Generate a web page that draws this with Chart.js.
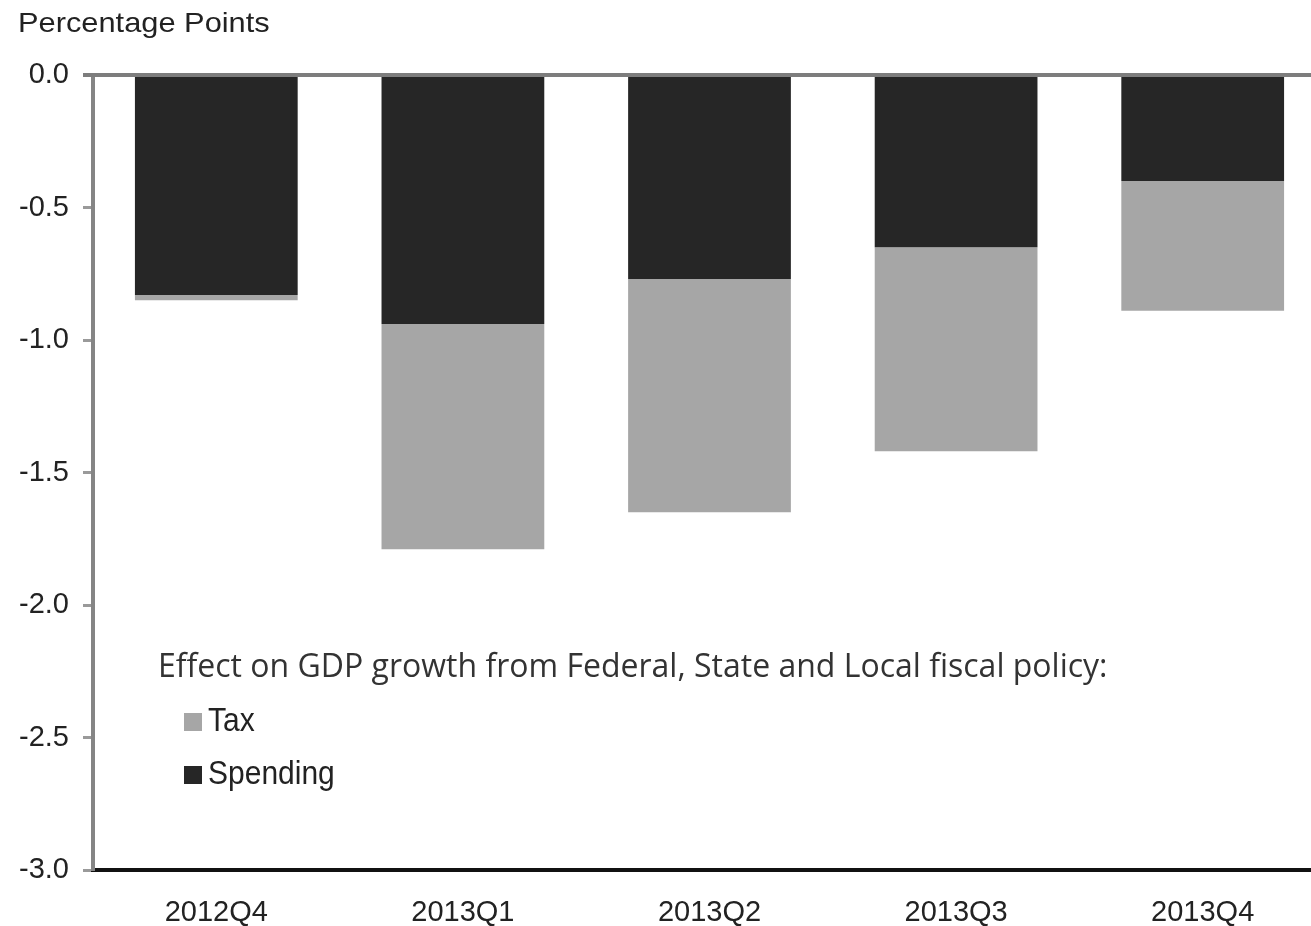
<!doctype html>
<html lang="en">
<head>
  <meta charset="utf-8">
  <title>Fiscal policy effect on GDP growth</title>
  <style type="text/css">
    html, body {
      margin: 0;
      padding: 0;
      background: #fff;
      overflow: hidden;
    }
    #wrap {
      position: relative;
      width: 1326px;
      height: 926px;
    }
  </style>
</head>
<body>
  <div id="wrap">
    <canvas id="chart_fiscal"></canvas>
  </div>

  <script src="https://cdn.jsdelivr.net/npm/chart.js"></script>
  <script>
    const quarters = ['2012Q4', '2013Q1', '2013Q2', '2013Q3', '2013Q4'];
    const spending = [-0.83, -0.94, -0.77, -0.65, -0.40];
    const tax = [-0.02, -0.85, -0.88, -0.77, -0.49];

    const yTicks = [0, -0.5, -1.0, -1.5, -2.0, -2.5, -3.0];

    const axisTitle = 'Percentage Points';
    const noteText = 'Effect on GDP growth from Federal, State and Local fiscal policy:';

    const colors = {
      spending: '#262626',
      tax: '#a6a6a6',
      text: '#222222',
      axis: '#858585'
    };

    const labelFont = { family: "'Liberation Sans', Arial, sans-serif", size: 29 };

    // title, zero line and the in-plot legend
    const decorations = {
      id: 'decorations',
      afterDatasetsDraw(chart) {
        const ctx = chart.ctx;
        const area = chart.chartArea;
        const y0 = chart.scales.y.getPixelForValue(0);

        ctx.save();
        ctx.strokeStyle = '#7d7d7d';
        ctx.lineWidth = 4;
        ctx.beginPath();
        ctx.moveTo(area.left - 10, y0);
        ctx.lineTo(area.right, y0);
        ctx.stroke();

        ctx.fillStyle = colors.text;
        ctx.textBaseline = 'alphabetic';
        ctx.textAlign = 'left';
        ctx.save();
        ctx.translate(18, 32);
        ctx.scale(1.1, 1);
        ctx.font = "28px 'Liberation Sans', Arial, sans-serif";
        ctx.fillText(axisTitle, 0, 0);
        ctx.restore();

        ctx.font = "32px 'Open Sans', sans-serif";
        ctx.fillStyle = '#333333';
        ctx.fillText(noteText, 158, 677);

        // legend: Tax first, then Spending
        const items = [
          { label: chart.data.datasets[1].label, color: chart.data.datasets[1].backgroundColor, y: 722 },
          { label: chart.data.datasets[0].label, color: chart.data.datasets[0].backgroundColor, y: 775 }
        ];
        ctx.textBaseline = 'middle';
        items.forEach(function (it) {
          ctx.fillStyle = it.color;
          ctx.fillRect(184, it.y - 9, 18, 18);
          ctx.fillStyle = colors.text;
          ctx.save();
          ctx.translate(208, it.y);
          ctx.scale(1, 1.12);
          ctx.font = "30px 'Liberation Sans', Arial, sans-serif";
          ctx.fillText(it.label, 0, 0);
          ctx.restore();
        });
        ctx.restore();
      }
    };

    const config_fiscal = {
      type: 'bar',
      data: {
        labels: quarters,
        datasets: [{
          label: 'Spending',
          data: spending,
          backgroundColor: colors.spending,
          borderWidth: 0,
          categoryPercentage: 1.0,
          barPercentage: 0.66
        }, {
          label: 'Tax',
          data: tax,
          backgroundColor: colors.tax,
          borderWidth: 0,
          categoryPercentage: 1.0,
          barPercentage: 0.66
        }]
      },
      options: {
        responsive: true,
        maintainAspectRatio: false,
        animation: false,
        layout: {
          padding: { top: 75, left: 0, right: 0, bottom: 0 }
        },
        scales: {
          x: {
            stacked: true,
            grid: { display: false, drawTicks: false },
            border: { color: '#111111', width: 4 },
            ticks: {
              color: colors.text,
              font: labelFont,
              padding: 26,
              maxRotation: 0
            },
            afterFit(scale) {
              scale.height = 56;
            }
          },
          y: {
            stacked: true,
            min: -3,
            max: 0,
            afterBuildTicks(scale) {
              scale.ticks = yTicks.map(function (v) { return { value: v }; });
            },
            grid: {
              drawOnChartArea: false,
              drawTicks: true,
              tickLength: 10,
              tickColor: '#9a9a9a',
              tickWidth: 3
            },
            border: { color: colors.axis, width: 4 },
            ticks: {
              color: colors.text,
              font: labelFont,
              padding: 14,
              callback: function (v) { return Number(v).toFixed(1); }
            },
            afterFit(scale) {
              scale.width = 93;
            }
          }
        },
        plugins: {
          legend: { display: false },
          tooltip: { enabled: false }
        }
      },
      plugins: [decorations]
    };

    const chart_fiscal = new Chart(
      document.getElementById('chart_fiscal'),
      config_fiscal
    );
  </script>
</body>
</html>
